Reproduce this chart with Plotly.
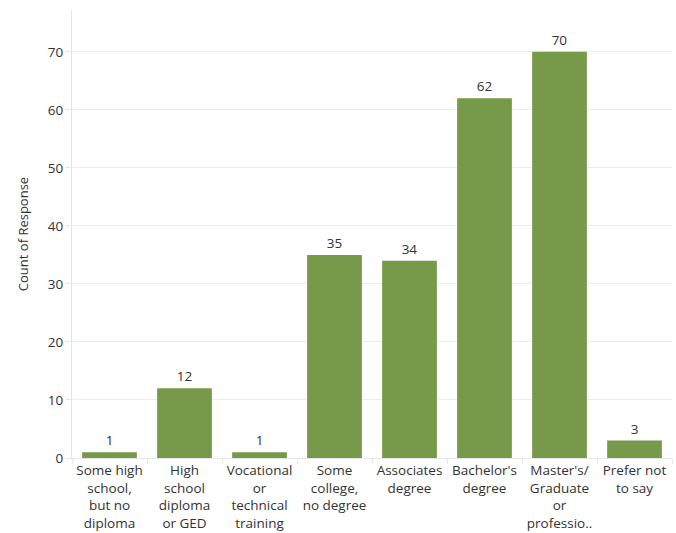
import plotly.graph_objects as go

categories = [
    "Some high<br>school,<br>but no<br>diploma",
    "High<br>school<br>diploma<br>or GED",
    "Vocational<br>or<br>technical<br>training",
    "Some<br>college,<br>no degree",
    "Associates<br>degree",
    "Bachelor's<br>degree",
    "Master's/<br>Graduate<br>or<br>professio..",
    "Prefer not<br>to say",
]
counts = [1, 12, 1, 35, 34, 62, 70, 3]
y_ticks = [0, 10, 20, 30, 40, 50, 60, 70]

FONT = "Open Sans, Lato, sans-serif"

fig = go.Figure(go.Bar(
    x=categories, y=counts,
    marker=dict(color="#779a4a", line=dict(width=0)),
    text=counts, textposition="outside",
    textfont=dict(size=13.5, color="#333333", family=FONT),
    cliponaxis=False,
))

fig.update_layout(
    width=676, height=533,
    margin=dict(l=72, r=4, t=10, b=75),
    paper_bgcolor="white", plot_bgcolor="white",
    font=dict(family=FONT, size=13.5, color="#333333"),
    bargap=0.27,
    showlegend=False,
)
fig.update_yaxes(
    range=[0, 77.2], tickvals=y_ticks, automargin=False,
    showgrid=True, gridcolor="#ececec", gridwidth=1,
    zeroline=False, showline=True, linecolor="#e6e6e6",
    ticks="outside", ticklen=5, tickcolor="#e6e6e6",
    tickfont=dict(size=13.5, color="#333333"),
    title=dict(text="Count of Response", font=dict(size=13, color="#333333"), standoff=16),
)
fig.update_xaxes(
    showgrid=False, showline=True, linecolor="#e6e6e6", automargin=False,
    ticks="outside", tickson="boundaries", ticklen=5, tickcolor="#e6e6e6",
    tickfont=dict(size=13.5, color="#333333"), tickangle=0,
)

fig.write_html("out.html")
